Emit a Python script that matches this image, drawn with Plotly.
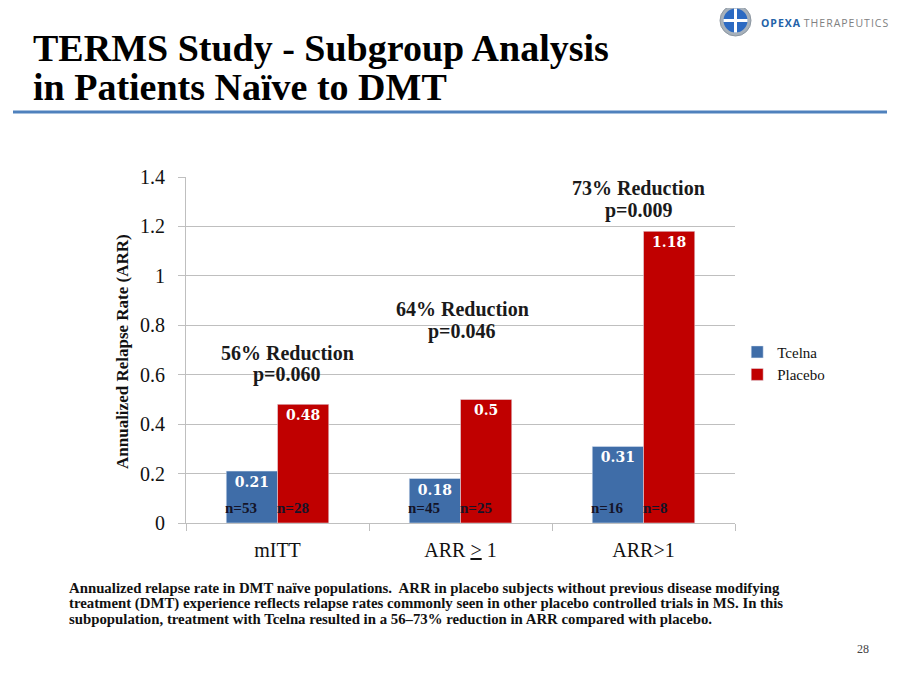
import plotly.graph_objects as go

# ---------------- data ----------------
categories = ["mITT", "ARR ≥ 1", "ARR>1"]
tick_labels = ["mITT", "ARR <u>></u> 1", "ARR>1"]
tcelna = [0.21, 0.18, 0.31]
placebo = [0.48, 0.5, 1.18]
n_tcelna = [53, 45, 16]
n_placebo = [28, 25, 8]
reduction_pct = [56, 64, 73]
p_values = ["0.060", "0.046", "0.009"]
y_ticks = [0, 0.2, 0.4, 0.6, 0.8, 1.0, 1.2, 1.4]
y_tick_labels = ["0", "0.2", "0.4", "0.6", "0.8", "1", "1.2", "1.4"]
footnote_lines = [
    "Annualized relapse rate in DMT naïve populations.  ARR in placebo subjects without previous disease modifying",
    "treatment (DMT) experience reflects relapse rates commonly seen in other placebo controlled trials in MS. In this",
    "subpopulation, treatment with Tcelna resulted in a 56–73% reduction in ARR compared with placebo.",
]

BLUE = "#3F6DA8"
RED = "#C00000"
GRID = "#BFBFBF"
SERIF = "Liberation Serif, Times New Roman, serif"
NUMF = "DejaVu Serif, serif"

# page layout helpers (page body offset of 8px)
OFF = 8
L, T, W, H = 186 - OFF, 177 - OFF, 549, 346


def px(x):
    return (x - OFF - L) / W


def py(y):
    return (T + H - (y - OFF)) / H


fig = go.Figure()
fig.add_trace(go.Bar(
    name="Tcelna", x=categories, y=tcelna, marker_color=BLUE,
    text=[f"{v:g}" for v in tcelna], textposition="inside", insidetextanchor="end",
    textangle=0, textfont=dict(family=NUMF, size=14, color="white", weight="bold"),
))
fig.add_trace(go.Bar(
    name="Placebo", x=categories, y=placebo, marker_color=RED,
    text=[f"{v:g}" for v in placebo], textposition="inside", insidetextanchor="end",
    textangle=0, textfont=dict(family=NUMF, size=14, color="white", weight="bold"),
))

BARGAP = 0.44
half = (1 - BARGAP) / 2

annotations = []
# n= labels at bar bottoms
for i in range(len(categories)):
    annotations.append(dict(x=i - half, y=0.06, xref="x", yref="y", xanchor="left", yanchor="middle",
                            text=f"<b>n={n_tcelna[i]}</b>", showarrow=False, xshift=-3,
                            font=dict(family=SERIF, size=15, color="#141428")))
    annotations.append(dict(x=i, y=0.06, xref="x", yref="y", xanchor="left", yanchor="middle",
                            text=f"<b>n={n_placebo[i]}</b>", showarrow=False, xshift=-3,
                            font=dict(family=SERIF, size=15, color="#141428")))

# reduction labels (two lines each, tight spacing)
red_pos = [(0.052, 0.645), (0.01, 0.82), (-0.027, 1.31)]
for i in range(len(categories)):
    dx, yy = red_pos[i]
    for txt, sh in ((f"<b>{reduction_pct[i]}% Reduction</b>", 11), (f"<b>p={p_values[i]}</b>", -11)):
        annotations.append(dict(x=i + dx, y=yy, xref="x", yref="y", xanchor="center", yanchor="middle",
                                text=txt, yshift=sh, showarrow=False,
                                font=dict(family=SERIF, size=20, color="#1a1a1a")))

# y axis title
annotations.append(dict(x=px(122), y=py(352), xref="paper", yref="paper", xanchor="center", yanchor="middle",
                        text="<b>Annualized Relapse Rate (ARR)</b>", textangle=-90, showarrow=False,
                        font=dict(family=SERIF, size=17, color="#111111")))

# title
annotations.append(dict(x=px(31), y=py(47.5), xref="paper", yref="paper", xanchor="left", yanchor="middle",
                        text="<b>TERMS Study - Subgroup Analysis</b>", showarrow=False,
                        font=dict(family=SERIF, size=38, color="#000000")))
annotations.append(dict(x=px(31), y=py(87), xref="paper", yref="paper", xanchor="left", yanchor="middle",
                        text="<b>in Patients Naïve to DMT</b>", showarrow=False,
                        font=dict(family=SERIF, size=38, color="#000000")))

# footnote
for k, line in enumerate(footnote_lines):
    annotations.append(dict(x=px(67), y=py(588 + 15.5 * k), xref="paper", yref="paper",
                            xanchor="left", yanchor="middle", align="left", showarrow=False,
                            text=f"<b>{line}</b>",
                            font=dict(family=SERIF, size=14.8, color="#111111")))
# page number
annotations.append(dict(x=px(863), y=py(649), xref="paper", yref="paper", xanchor="center", yanchor="middle",
                        text="28", showarrow=False, font=dict(family=SERIF, size=12, color="#444444")))

# logo text
annotations.append(dict(x=px(759), y=py(23), xref="paper", yref="paper", xanchor="left", yanchor="middle",
                        text="<span style='letter-spacing:1px'><b>OPEXA</b></span> <span style='letter-spacing:1px;color:#808080'>THERAPEUTICS</span>",
                        showarrow=False, font=dict(family="Open Sans, sans-serif", size=10.5, color="#2462A8")))

shapes = [
    # title rule
    dict(type="line", xref="paper", yref="paper", x0=px(13), x1=px(887), y0=py(112), y1=py(112),
         line=dict(color="#4F81BD", width=3)),
    # logo
    dict(type="circle", xref="paper", yref="paper", x0=px(720), x1=px(751), y0=py(36), y1=py(5),
         fillcolor="#A7B1BB", line=dict(color="#8C96A0", width=1)),
    dict(type="circle", xref="paper", yref="paper", x0=px(723.5), x1=px(747.5), y0=py(32.5), y1=py(8.5),
         fillcolor="#2C6AC2", line=dict(width=0)),
    dict(type="line", xref="paper", yref="paper", x0=px(735.5), x1=px(735.5), y0=py(32.5), y1=py(8.5),
         line=dict(color="white", width=3)),
    dict(type="line", xref="paper", yref="paper", x0=px(723.5), x1=px(747.5), y0=py(20.5), y1=py(20.5),
         line=dict(color="white", width=3)),
]

fig.update_layout(
    width=900, height=675,
    paper_bgcolor="white", plot_bgcolor="white",
    margin=dict(l=L, r=900 - L - W, t=T, b=675 - T - H, autoexpand=False),
    barmode="group", bargap=BARGAP, bargroupgap=0,
    showlegend=True,
    legend=dict(x=1.004, xanchor="left", y=0.462, yanchor="middle",
                font=dict(family=SERIF, size=15, color="#111111"),
                bgcolor="rgba(0,0,0,0)", tracegroupgap=0),
    annotations=annotations,
    shapes=shapes,
)
fig.update_xaxes(
    type="category", tickvals=categories, ticktext=tick_labels,
    showline=True, linecolor=GRID, linewidth=1,
    ticks="outside", tickson="boundaries", ticklen=7, tickcolor=GRID,
    ticklabelstandoff=9,
    tickfont=dict(family=SERIF, size=20, color="#111111"),
    showgrid=False, zeroline=False,
)
fig.update_yaxes(
    range=[0, 1.4], tickvals=y_ticks, ticktext=y_tick_labels,
    showline=True, linecolor=GRID, linewidth=1,
    ticks="outside", ticklen=7, tickcolor=GRID,
    ticklabelstandoff=9,
    tickfont=dict(family=SERIF, size=20, color="#111111"),
    showgrid=True, gridcolor=GRID, gridwidth=1, zeroline=False,
)

fig.write_html("out.html")
